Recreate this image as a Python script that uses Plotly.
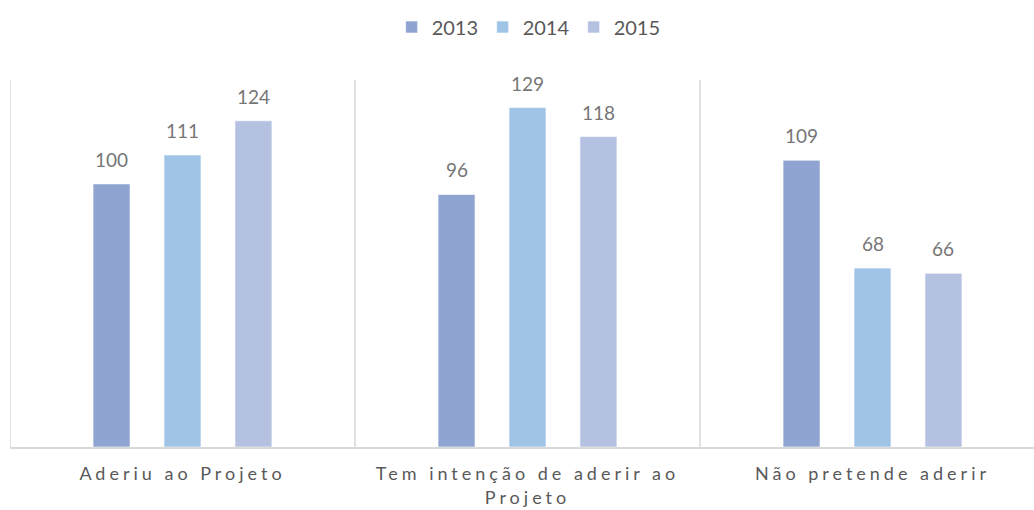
import plotly.graph_objects as go

categories = ["Aderiu ao Projeto", "Tem intenção de aderir ao Projeto", "Não pretende aderir"]
tick_labels = ["Aderiu ao Projeto", "Tem intenção de aderir ao<br>Projeto", "Não pretende aderir"]
years = ["2013", "2014", "2015"]
values_2013 = [100, 96, 109]
values_2014 = [111, 129, 68]
values_2015 = [124, 118, 66]
colors = ["#8FA4D1", "#A0C4E6", "#B4C1E1"]

series = [values_2013, values_2014, values_2015]
idx = list(range(len(categories)))

BARGAP = 0.383
BARGROUPGAP = 0.479
slot = (1 - BARGAP) / len(series)

fig = go.Figure()
annotations = []
for k, (yr, vals, col) in enumerate(zip(years, series, colors)):
    fig.add_trace(go.Bar(
        name=yr, x=idx, y=vals,
        marker=dict(color=col, line=dict(color="rgba(255,255,255,0.6)", width=1)),
        hoverinfo="x+y+name",
    ))
    for i, v in zip(idx, vals):
        annotations.append(dict(
            x=i + (k - 1) * slot, y=v, xref="x", yref="y",
            text=str(v), showarrow=False, yanchor="bottom", yshift=11,
            font=dict(family="Lato", size=19, color="#767676"),
        ))

shapes = []
for b in [-0.5, 0.5, 1.5, 2.5]:
    shapes.append(dict(type="line", xref="x", yref="paper", x0=b, x1=b, y0=0, y1=1,
                       line=dict(color="#D9D9D9", width=1.5), layer="below"))

fig.update_layout(
    width=1034, height=510,
    margin=dict(l=10, r=0, t=80, b=63),
    paper_bgcolor="white", plot_bgcolor="white",
    barmode="group", bargap=BARGAP, bargroupgap=BARGROUPGAP,
    font=dict(family="Lato", color="#595959"),
    showlegend=True,
    legend=dict(orientation="h", x=0.506, xanchor="center", y=0.947, yref="container",
                yanchor="middle", font=dict(family="Lato", size=20, color="#595959"),
                entrywidth=46, traceorder="normal"),
    xaxis=dict(
        tickmode="array", tickvals=idx, ticktext=tick_labels,
        range=[-0.5, -0.5 + 1024 / 345], showgrid=False, zeroline=False,
        showline=True, linecolor="#D9D9D9", linewidth=1.5,
        ticks="", tickfont=dict(family="Lato", size=18, color="#595959"),
        ticklabelstandoff=10,
        fixedrange=True,
    ),
    yaxis=dict(range=[0, 139.5], visible=False, showgrid=False, fixedrange=True),
    shapes=shapes,
    annotations=annotations,
)

post = """
document.body.style.margin = '0';
var gd = document.getElementById('{plot_id}');
function sp(){ gd.querySelectorAll('.xtick text').forEach(function(t){ t.style.letterSpacing='4px'; }); }
sp(); gd.on('plotly_afterplot', sp);
"""

fig.write_html("out.html", post_script=post, config={"displayModeBar": False})
